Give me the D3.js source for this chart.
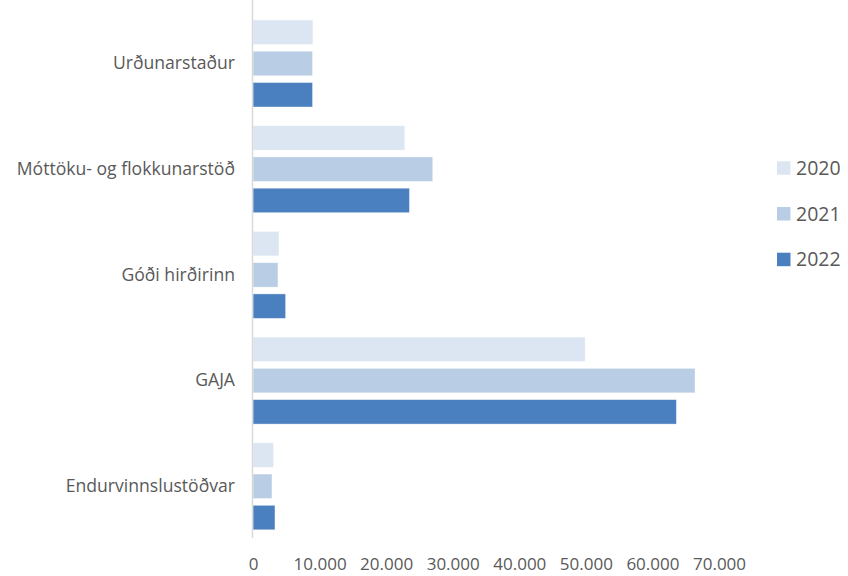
<!DOCTYPE html>
<html><head><meta charset="utf-8">
<script src="https://cdn.jsdelivr.net/npm/d3@7"></script>
<style>body{margin:0;background:#fff;} text{font-family:"Open Sans",sans-serif;fill:#595959;}</style>
</head><body>
<svg id="c" width="848" height="576"></svg>
<script>
const categories = ["Urðunarstaður","Móttöku- og flokkunarstöð","Góði hirðirinn","GAJA","Endurvinnslustöðvar"];
const years = ["2020","2021","2022"];
const v2020 = [9000, 22800, 3900, 49900, 3100];
const v2021 = [8950, 27000, 3750, 66400, 2850];
const v2022 = [8950, 23500, 4900, 63600, 3300];
const tickValues = [0,10000,20000,30000,40000,50000,60000,70000];
const colors = ["#dce6f2","#b9cde5","#4a80c0"];

const series = [v2020, v2021, v2022];
const svg = d3.select("#c");
const x = d3.scaleLinear().domain([0,70000]).range([253,719]);
const y = d3.scaleBand().domain(categories).range([20,529.8]).paddingInner(0.177).paddingOuter(0);
const yi = d3.scaleBand().domain(years).range([0,y.bandwidth()]).paddingInner(0.216).paddingOuter(0);
const loc = d3.formatLocale({decimal:",",thousands:".",grouping:[3],currency:["","kr"]});
const fmt = loc.format(",.0f");

// bars
categories.forEach((c,i)=>{
  years.forEach((yr,j)=>{
    svg.append("rect")
      .attr("x", x(0))
      .attr("y", y(c)+yi(yr))
      .attr("width", x(series[j][i]) - x(0))
      .attr("height", yi.bandwidth())
      .attr("fill", colors[j])
      .attr("stroke","#ffffff").attr("stroke-opacity",0.5).attr("stroke-width",0.8);
  });
});

// vertical axis line
svg.append("line").attr("x1",252.5).attr("x2",252.5).attr("y1",0).attr("y2",538)
  .attr("stroke","#d9d9d9").attr("stroke-width",1.5);

// x tick labels
const xAxis = d3.axisBottom(x).tickValues(tickValues).tickFormat(fmt).tickSize(0).tickPadding(0);
const gx = svg.append("g").attr("transform","translate(0,558)").call(xAxis);
gx.select(".domain").remove();
gx.selectAll("text").style("font-size","17px").style("fill","#595959").style("font-family","'Open Sans',sans-serif");

// category labels
const yAxis = d3.axisLeft(y).tickSize(0).tickPadding(0);
const gy = svg.append("g").attr("transform","translate(235,0)").call(yAxis);
gy.select(".domain").remove();
gy.selectAll("text").style("font-size","17.6px").style("fill","#595959").style("font-family","'Open Sans',sans-serif");

// legend
years.forEach((yr,j)=>{
  const ly = 168 + j*45.7;
  svg.append("rect").attr("x",777).attr("y",ly-6.7).attr("width",13.5).attr("height",13.5).attr("fill",colors[j]);
  svg.append("text").attr("x",796).attr("y",ly).attr("dy","0.36em").style("font-size","19.5px").text(yr);
});
</script>
</body></html>
